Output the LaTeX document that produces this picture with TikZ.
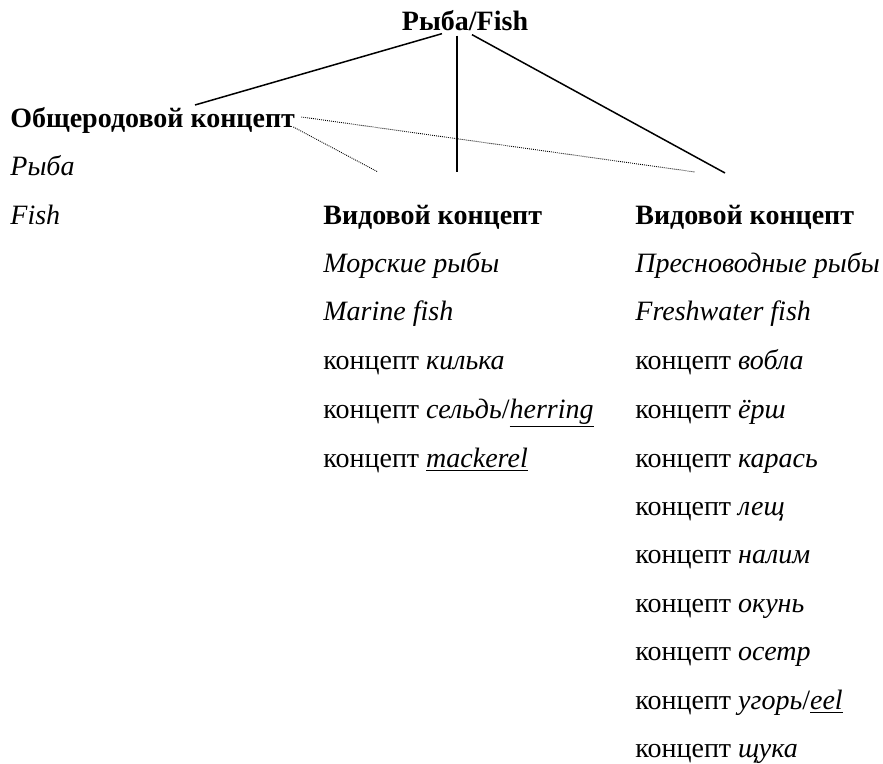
\documentclass[tikz,border=0pt]{standalone}
\usepackage{fontspec}
\setmainfont{Liberation Serif}
\tikzset{
	txt/.style={anchor=base west,inner sep=0pt,font=\fontsize{14}{17}\selectfont}, % every text line
	solidline/.style={line width=0.75pt},
	dotline/.style={line width=0.45pt,dash pattern=on 0.45pt off 0.55pt}
}
\begin{document}
\begin{tikzpicture}[x=0.5pt,y=-0.5pt]
		\useasboundingbox (0,0) rectangle (883,764);
		% Top node
		\node [txt,anchor=base] (fish) at (465,31) {\textbf{Рыба/Fish}};
		% Left column
		\node [txt] (genus) at (10,128) {\textbf{Общеродовой концепт}};
		\node [txt] (genusru) at (10,176) {\textit{Рыба}};
		\node [txt] (genusen) at (10,225) {\textit{Fish}};
		% Middle column
		\node [txt] (marine) at (323,225) {\textbf{Видовой концепт}};
		\node [txt] (marineru) at (323,273) {\textit{Морские рыбы}};
		\node [txt] (marineen) at (323,321) {\textit{Marine fish}};
		\node [txt] (m1) at (323,370) {концепт \textit{килька}};
		\node [txt] (m2) at (323,418) {концепт \textit{сельдь}/\underline{\textit{herring}}};
		\node [txt] (m3) at (323,467) {концепт \underline{\textit{mackerel}}};
		% Right column
		\node [txt] (fresh) at (635,225) {\textbf{Видовой концепт}};
		\node [txt] (freshru) at (635,273) {\textit{Пресноводные рыбы}};
		\node [txt] (freshen) at (635,321) {\textit{Freshwater fish}};
		\node [txt] (f1) at (635,370) {концепт \textit{вобла}};
		\node [txt] (f2) at (635,418) {концепт \textit{ёрш}};
		\node [txt] (f3) at (635,467) {концепт \textit{карась}};
		\node [txt] (f4) at (635,515) {концепт \textit{лещ}};
		\node [txt] (f5) at (635,563) {концепт \textit{налим}};
		\node [txt] (f6) at (635,612) {концепт \textit{окунь}};
		\node [txt] (f7) at (635,660) {концепт \textit{осетр}};
		\node [txt] (f8) at (635,709) {концепт \textit{угорь}/\underline{\textit{eel}}};
		\node [txt] (f9) at (635,757) {концепт \textit{щука}};
		% Free ends of the lines
		\coordinate (genustop) at (195,105);
		\coordinate (midtop) at (457,172);
		\coordinate (righttop) at (725,173);
		\coordinate (dotmid) at (378,172);
		\coordinate (dotright) at (695,172);
		% Draw solid lines
		\draw [solidline] ([xshift=-11.5pt,yshift=-1pt]fish.south) -- (genustop);
		\draw [solidline] ([xshift=-4pt,yshift=-2pt]fish.south) -- (midtop);
		\draw [solidline] ([xshift=3.5pt,yshift=-1.5pt]fish.south) -- (righttop);
		% Draw dotted lines
		\draw [dotline] ([xshift=3pt,yshift=2pt]genus.east) -- (dotright);
		\draw [dotline] ([xshift=-1pt,yshift=-3pt]genus.east) -- (dotmid);
\end{tikzpicture}
\end{document}
